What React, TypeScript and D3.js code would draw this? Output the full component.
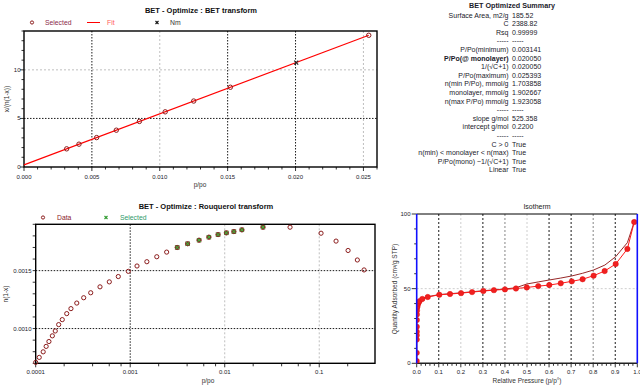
import React from 'react';
import * as d3 from 'd3';

// ---------- BET transform data ----------
const betP = [0.003141, 0.00405, 0.00535, 0.0068, 0.0085, 0.0104, 0.0125, 0.0152, 0.025393];
const betY = [1.87, 2.35, 3.03, 3.79, 4.69, 5.68, 6.79, 8.21, 13.56];
const nmP = [0.02005];
const nmY = [10.75];
const fitSlope = 525.358;
const fitIntercept = 0.22;
const betXTicks = [0, 0.005, 0.01, 0.015, 0.02, 0.025];
const betXTickLabels = ['0.000', '0.005', '0.010', '0.015', '0.020', '0.025'];
const betYTicks = [0, 5, 10];

// ---------- Rouquerol data ----------
const rqP = [0.0001, 0.000109, 0.00012, 0.000129, 0.000138, 0.00015, 0.000161, 0.000175, 0.000191, 0.000213,
  0.000236, 0.000272, 0.000322, 0.000382, 0.000479, 0.000601, 0.000748, 0.000955, 0.00118, 0.0015,
  0.00191, 0.00243, 0.003141, 0.00405, 0.00535, 0.0068, 0.0085, 0.0104, 0.0125, 0.0152,
  0.025393, 0.0491, 0.1045, 0.1506, 0.2019, 0.253, 0.298];
const rqY = [0.000708, 0.000751, 0.000799, 0.000846, 0.000888, 0.000937, 0.000979, 0.001034, 0.001077, 0.001129,
  0.001172, 0.00122, 0.001266, 0.001309, 0.00136, 0.001403, 0.001449, 0.001494, 0.00154, 0.001577,
  0.00162, 0.00166, 0.0017, 0.001732, 0.001763, 0.001789, 0.001811, 0.001826, 0.001837, 0.001852,
  0.001875, 0.001875, 0.001823, 0.001755, 0.001674, 0.001592, 0.001506];
const rqSelected = [0.003141, 0.00405, 0.00535, 0.0068, 0.0085, 0.0104, 0.0125, 0.0152, 0.025393];
const rqXTicks = [0.0001, 0.001, 0.01, 0.1];
const rqXTickLabels = ['0.0001', '0.001', '0.01', '0.1'];
const rqYTicks = [0.001, 0.0015];
const rqYTickLabels = ['0.0010', '0.0015'];

// ---------- Isotherm data ----------
const adsP = [0.00002, 0.00005, 0.0001, 0.00015, 0.0002, 0.0003, 0.0005, 0.0008, 0.0012, 0.0019,
  0.0031, 0.0054, 0.0085, 0.0125, 0.0254, 0.05, 0.1025, 0.151, 0.201, 0.251,
  0.302, 0.35, 0.4, 0.45, 0.499, 0.551, 0.601, 0.653, 0.703, 0.752,
  0.802, 0.852, 0.902, 0.955, 0.986];
const adsQ = [1.5, 7, 15.9, 18.8, 21.2, 24.5, 29, 32.7, 35.3, 37.4,
  38.2, 39.6, 40.7, 41.6, 43.1, 44.4, 45.9, 46.4, 47.0, 47.7,
  48.4, 49.0, 49.5, 50.1, 50.8, 51.7, 52.4, 53.6, 54.9, 56.3,
  58.7, 61.8, 66.5, 76.6, 94.6];
const desP = [0.986, 0.955, 0.902, 0.853, 0.802, 0.752, 0.703, 0.653, 0.601, 0.551,
  0.499, 0.477, 0.45, 0.4, 0.35, 0.3, 0.25, 0.2, 0.15, 0.1, 0.05, 0.02, 0.005, 0.001, 0.0002, 0.00003];
const desQ = [94.6, 80.8, 71.4, 65.8, 62.5, 60.3, 58.5, 57.1, 55.8, 54.5,
  53.1, 52.0, 50.6, 49.8, 49.2, 48.6, 47.9, 47.2, 46.6, 46.0, 44.6, 43.2, 40.2, 36.0, 22.0, 3.0];
const isoXTicks = [0, 0.1, 0.2, 0.3, 0.4, 0.5, 0.6, 0.7, 0.8, 0.9, 1.0];
const isoYTicks = [0, 50, 100];

// ---------- Summary ----------
const summaryLabels = ['Surface Area, m2/g', 'C', 'Rsq', '-----', 'P/Po(minimum)', 'P/Po(@ monolayer)',
  '1/(\u221AC+1)', 'P/Po(maximum)', 'n(min P/Po), mmol/g', 'monolayer, mmol/g', 'n(max P/Po) mmol/g', '-----',
  'slope g/mol', 'intercept g/mol', '-----', 'C > 0', 'n(min) < monolayer < n(max)',
  'P/Po(mono) ~1/(\u221AC+1)', 'Linear'];
const summaryValues = ['185.52', '2388.82', '0.99999', '-----', '0.003141', '0.020050', '0.020050', '0.025393',
  '1.703858', '1.902667', '1.923058', '-----', '525.358', '0.2200', '-----', 'True', 'True', 'True', 'True'];

const FONT = '"Liberation Sans", Arial, sans-serif';
const MAROON = '#8b1c1c';
const TXT = '#1a1a2a';

const dotted = { stroke: '#000', strokeDasharray: '1.5,1.5', strokeWidth: 0.9 };
const greyDash = { stroke: '#b8b8b8', strokeDasharray: '2,2', strokeWidth: 0.9 };

function BetPanel() {
  const L = 24, R = 377, T = 31, B = 167;
  const x = d3.scaleLinear().domain([0, 0.026]).range([L, R]);
  const y = d3.scaleLinear().domain([0, 14]).range([B, T]);
  const minorX = d3.range(0, 0.0261, 0.001);
  const minorY = d3.range(0, 14.01, 1);
  const vGrid = [0.005, 0.01, 0.015, 0.02, 0.025];
  const vStyle = [dotted, greyDash, dotted, dotted, greyDash];
  const fitLine = d3.line<number>().x(p => x(p)).y(p => y(fitIntercept + fitSlope * p));
  const fitPts = [0, betP[betP.length - 1]];
  return (
    <g>
      <text x={201} y={13} textAnchor="middle" fontSize={7.5} fontWeight="bold" fill="#111">BET - Optimize : BET transform</text>
      {/* legend */}
      <circle cx={32} cy={22.5} r={1.6} fill="none" stroke={MAROON} strokeWidth={1} />
      <text x={45} y={25} fontSize={6.8} fill="#8b2a4a">Selected</text>
      <line x1={87} x2={100} y1={22.5} y2={22.5} stroke="#ff0000" strokeWidth={1} />
      <text x={107} y={25} fontSize={6.8} fill="#ff5a5a">Fit</text>
      <path d="M155.5,21 l3,3 M158.5,21 l-3,3" stroke="#111" strokeWidth={1.1} />
      <text x={170} y={25} fontSize={6.8} fill="#333">Nm</text>
      {/* grid */}
      {vGrid.map((v, i) => <line key={'v' + i} x1={x(v)} x2={x(v)} y1={T} y2={B} {...vStyle[i]} />)}
      <line x1={L} x2={R} y1={y(5)} y2={y(5)} {...dotted} />
      <line x1={L} x2={R} y1={y(10)} y2={y(10)} {...greyDash} />
      {/* ticks */}
      {minorX.map((v, i) => <line key={'mx' + i} x1={x(v)} x2={x(v)} y1={B} y2={B + (i % 5 === 0 ? 4 : 2.5)} stroke="#000" strokeWidth={0.8} />)}
      {minorY.map((v, i) => <line key={'my' + i} x1={L} x2={L - (i % 5 === 0 ? 4 : 2.5)} y1={y(v)} y2={y(v)} stroke="#000" strokeWidth={0.8} />)}
      {betXTicks.map((v, i) => <text key={'xl' + i} x={x(v)} y={179} textAnchor="middle" fontSize={6} fill={TXT}>{betXTickLabels[i]}</text>)}
      {betYTicks.map((v, i) => <text key={'yl' + i} x={20.5} y={y(v) + 2} textAnchor="end" fontSize={6} fill={TXT}>{v}</text>)}
      <rect x={L} y={T} width={R - L} height={B - T} fill="none" stroke="#000" strokeWidth={1.4} />
      {/* fit and points */}
      <path d={fitLine(fitPts) || ''} fill="none" stroke="#ff0000" strokeWidth={1.1} />
      {betP.map((p, i) => <circle key={'p' + i} cx={x(p)} cy={y(betY[i])} r={2.2} fill="none" stroke={MAROON} strokeWidth={1} />)}
      {nmP.map((p, i) => <path key={'nm' + i} d={`M${x(p) - 2},${y(nmY[i]) - 2} l4,4 M${x(p) + 2},${y(nmY[i]) - 2} l-4,4`} stroke="#222" strokeWidth={1.2} />)}
      <text x={200} y={187} textAnchor="middle" fontSize={6.5} fill="#333">p/po</text>
      <text transform={`translate(9,99) rotate(-90)`} textAnchor="middle" fontSize={6.5} fill="#333">x/(n(1-x))</text>
    </g>
  );
}

function Summary() {
  const y0 = 17.6, dy = 8.6;
  return (
    <g fontSize={7} fill={TXT}>
      <text x={512} y={8} textAnchor="middle" fontWeight="bold" fontSize={7.2}>BET Optimized Summary</text>
      {summaryLabels.map((s, i) => <text key={'l' + i} x={508.5} y={y0 + i * dy} textAnchor="end" fontWeight={i === 5 ? 'bold' : 'normal'}>{s}</text>)}
      {summaryValues.map((s, i) => <text key={'v' + i} x={512} y={y0 + i * dy}>{s}</text>)}
    </g>
  );
}

function RouquerolPanel() {
  const L = 35.7, R = 375, T = 224.3, B = 363.3;
  const x = d3.scaleLog().domain([0.0001, 0.389]).range([L, R]);
  const y = d3.scaleLinear().domain([0.0007, 0.0019]).range([B, T]);
  const minorX: number[] = [];
  [0.0001, 0.001, 0.01, 0.1].forEach(d => [2, 4, 6, 8].forEach(m => { if (d * m <= 0.389) minorX.push(d * m); }));
  const minorY = d3.range(0.0007, 0.00191, 0.0001);
  return (
    <g>
      <text x={206} y={208.5} textAnchor="middle" fontSize={7.5} fontWeight="bold" fill="#111">BET - Optimize : Rouquerol transform</text>
      <circle cx={43} cy={217.5} r={1.6} fill="none" stroke={MAROON} strokeWidth={1} />
      <text x={57} y={220} fontSize={6.8} fill="#8b1a2a">Data</text>
      <path d="M104.5,216 l3,3 M107.5,216 l-3,3" stroke="#2e9a2e" strokeWidth={1.1} />
      <text x={120} y={220} fontSize={6.8} fill="#2f9a6a">Selected</text>
      <line x1={x(0.001)} x2={x(0.001)} y1={T} y2={B} {...dotted} />
      <line x1={x(0.01)} x2={x(0.01)} y1={T} y2={B} {...greyDash} />
      <line x1={x(0.1)} x2={x(0.1)} y1={T} y2={B} {...greyDash} />
      {rqYTicks.map((v, i) => <line key={'hg' + i} x1={L} x2={R} y1={y(v)} y2={y(v)} {...dotted} />)}
      {minorX.map((v, i) => <line key={'mx' + i} x1={x(v)} x2={x(v)} y1={B} y2={B + 3} stroke="#000" strokeWidth={0.8} />)}
      {rqXTicks.map((v, i) => <line key={'Mx' + i} x1={x(v)} x2={x(v)} y1={B} y2={B + 4} stroke="#000" strokeWidth={0.8} />)}
      {minorY.map((v, i) => <line key={'my' + i} x1={L} x2={L - 3} y1={y(v)} y2={y(v)} stroke="#000" strokeWidth={0.8} />)}
      {rqXTicks.map((v, i) => <text key={'xl' + i} x={x(v)} y={374} textAnchor="middle" fontSize={6} fill={TXT}>{rqXTickLabels[i]}</text>)}
      {rqYTicks.map((v, i) => <text key={'yl' + i} x={31.5} y={y(v) + 2} textAnchor="end" fontSize={6} fill={TXT}>{rqYTickLabels[i]}</text>)}
      <rect x={L} y={T} width={R - L} height={B - T} fill="none" stroke="#000" strokeWidth={1.4} />
      {rqP.map((p, i) => <circle key={'c' + i} cx={x(p)} cy={y(rqY[i])} r={2.1} fill="none" stroke={MAROON} strokeWidth={1} />)}
      {rqP.map((p, i) => rqSelected.indexOf(p) >= 0 ? (
        <g key={'s' + i}>
          <rect x={x(p) - 2.2} y={y(rqY[i]) - 2.2} width={4.4} height={4.4} fill="#7a3a2a" />
          <path d={`M${x(p) - 1.8},${y(rqY[i]) - 1.8} l3.6,3.6 M${x(p) + 1.8},${y(rqY[i]) - 1.8} l-3.6,3.6`} stroke="#3cc03c" strokeWidth={1} />
        </g>
      ) : null)}
      <text x={208} y={383} textAnchor="middle" fontSize={6.5} fill="#333">p/po</text>
      <text transform={`translate(8,294) rotate(-90)`} textAnchor="middle" fontSize={6.5} fill="#333">n(1-x)</text>
    </g>
  );
}

function IsothermPanel() {
  const L = 416.7, R = 637.3, T = 214, B = 363.3;
  const x = d3.scaleLinear().domain([0, 1]).range([L, R]);
  const y = d3.scaleLinear().domain([0, 100]).range([B, T]);
  const minorX = d3.range(0, 1.001, 0.02);
  const minorY = d3.range(0, 100.1, 10);
  const gridCols = ['#000', '#c8c8c8', '#000', '#777', '#c8c8c8', '#000', '#000', '#777', '#000'];
  const line = d3.line<number>().x((_, i) => 0).y(() => 0);
  const ads = d3.line<number>().x(i => x(adsP[i])).y(i => y(adsQ[i]));
  const des = d3.line<number>().x(i => x(desP[i])).y(i => y(desQ[i]));
  void line;
  return (
    <g>
      <defs>
        <clipPath id="isoClip"><rect x={L} y={T - 4} width={R - L} height={B - T + 4} /></clipPath>
      </defs>
      <text x={537} y={208.5} textAnchor="middle" fontSize={7} fill="#222">Isotherm</text>
      {isoXTicks.slice(1, 10).map((v, i) => <line key={'vg' + i} x1={x(v)} x2={x(v)} y1={T} y2={B} stroke={gridCols[i]} strokeDasharray="2,2" strokeWidth={0.9} />)}
      <line x1={L} x2={R} y1={y(50)} y2={y(50)} stroke="#c8c8c8" strokeDasharray="2,2" strokeWidth={0.9} />
      {minorX.map((v, i) => <line key={'mx' + i} x1={x(v)} x2={x(v)} y1={B} y2={B + (i % 5 === 0 ? 4 : 2.5)} stroke="#000" strokeWidth={0.8} />)}
      {minorY.map((v, i) => <line key={'my' + i} x1={L} x2={L - (i % 5 === 0 ? 5 : 2.5)} y1={y(v)} y2={y(v)} stroke="#000" strokeWidth={0.8} />)}
      {isoXTicks.map((v, i) => <text key={'xl' + i} x={x(v)} y={374} textAnchor="middle" fontSize={6} fill={TXT}>{v.toFixed(1)}</text>)}
      {isoYTicks.map((v, i) => <text key={'yl' + i} x={410.5} y={y(v) + 2} textAnchor="end" fontSize={6} fill={TXT}>{v}</text>)}
      <line x1={L} x2={R} y1={T} y2={T} stroke="#000" strokeWidth={1} />
      <line x1={L} x2={R} y1={B} y2={B} stroke="#222" strokeWidth={1.6} />
      <g clipPath="url(#isoClip)">
        <path d={des(d3.range(desP.length)) || ''} fill="none" stroke="#8b1010" strokeWidth={0.9} />
        <path d={ads(d3.range(adsP.length)) || ''} fill="none" stroke="#ff1a1a" strokeWidth={1} />
        {adsP.map((p, i) => <circle key={'a' + i} cx={x(p)} cy={y(adsQ[i])} r={2.7} fill="#f02020" stroke="#e01010" strokeWidth={0.5} />)}
      </g>
      <line x1={L} x2={L} y1={T} y2={B} stroke="#1010ff" strokeWidth={1.6} />
      <line x1={R} x2={R} y1={T} y2={B} stroke="#1010ff" strokeWidth={1.6} />
      <text x={527} y={383} textAnchor="middle" fontSize={6.5} fill="#333">Relative Pressure (p/p°)</text>
      <text transform={`translate(397,289) rotate(-90)`} textAnchor="middle" fontSize={6.5} fill="#333">Quantity Adsorbed (cm³/g STP)</text>
    </g>
  );
}

export default function App() {
  return (
    <svg width={640} height={390} style={{ position: 'absolute', left: 0, top: 0, background: '#fff' }} fontFamily={FONT}>
      <rect width={640} height={390} fill="#fff" />
      <BetPanel />
      <Summary />
      <RouquerolPanel />
      <IsothermPanel />
    </svg>
  );
}
